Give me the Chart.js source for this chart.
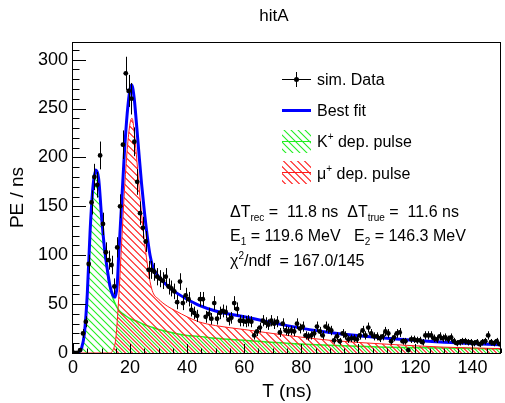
<!DOCTYPE html>
<html>
<head>
<meta charset="utf-8">
<title>hitA</title>
<script src="https://cdn.jsdelivr.net/npm/chart.js@4.4.0/dist/chart.umd.min.js"></script>
<style>
  html, body { margin: 0; padding: 0; background: #fff; }
</style>
</head>
<body>
<canvas id="hitA" width="505" height="403"></canvas>
<script>
var FONT = "'Liberation Sans', Arial, Helvetica, sans-serif";

// simulated hits, one bin per ns (bin i covers i..i+1 ns)
var hits = [
    0,   0,   3,  20,  32,  91, 154, 180, 172, 202,
  132, 103,  95,  90,  68, 108, 150, 213, 286, 268,
  260, 216, 175, 143, 128, 114,  85,  85,  83,  78,
   76,  74,  78,  68,  66,  63,  52,  73,  51,  59,
   55,  44,  41,  38,  55,  55,  37,  40,  35,  51,
   35,  41,  43,  42,  34,  36,  51,  45,  33,  33,
   32,  33,  32,  18,  22,  26,  33,  31,  29,  33,
   30,  32,  21,  30,  23,  22,  23,  22,  30,  25,
   27,  18,  17,  18,  20,  27,  22,  18,  27,  25,
   23,  13,  17,  12,  20,  18,  14,  15,  15,  14,
   18,  23,  18,  26,  20,  17,  17,  15,  17,  22,
   20,  12,  16,  20,  21,  12,  12,   3,  14,  14,
   13,  13,  11,  18,  18,  18,  15,  14,  17,  15,
   16,  14,  16,  12,  10,  11,  12,  12,  11,  11,
   10,  11,   9,  11,  12,  18,  11,  10,  12,   9
];

// fitted pulses, sampled along T (ns)
var kaonT  = [0, 1, 2, 3, 4, 5, 6, 7, 8, 9, 10, 11, 12, 13, 14, 15, 16, 17, 18, 20, 22, 25, 28, 30, 36, 40, 44, 50, 60, 75, 90, 110, 130, 150];
var kaonPE = [0, 0, 1, 5, 20, 60, 125, 170, 187, 178, 140, 107, 84, 66, 56, 49, 44, 41, 39, 35, 33, 29, 26, 24, 20, 18, 17, 15, 13, 10, 8, 6, 5, 4];

var muonT  = [0, 13, 14, 15, 16, 17, 18, 19, 20, 20.7, 21.5, 22.2, 23, 24, 25, 26, 27, 28, 30, 33, 36, 40, 44, 50, 60, 75, 90, 110, 130, 150];
var muonPE = [0, 0, 3, 15, 55, 110, 165, 208, 235, 240, 225, 203, 175, 143, 115, 92, 73, 62, 55, 48, 43, 37, 32, 28, 24, 18, 13, 9, 6, 4.5];

var fitT  = [0, 1, 2, 3, 4, 5, 6, 7, 8, 9, 10, 11, 12, 13, 14, 14.7, 15.5, 16, 17, 18, 19, 20, 20.6, 21.5, 22.2, 23, 24, 25, 26, 27, 28, 30, 33, 36, 40, 44, 50, 60, 75, 90, 110, 130, 150];
var fitPE = [0, 0, 1, 5, 20, 60, 125, 170, 187, 178, 140, 108, 86, 68, 59, 57, 70, 99, 151, 204, 245, 270, 274, 259, 236, 208, 174, 145, 120, 100, 88, 78, 69, 62, 55, 49, 43, 37, 28, 21, 15, 11, 8.5];

var legendLabels = ['sim. Data', 'Best fit', 'K', 'μ'];

var GREEN = '#22ee22';
var RED = '#ff1a1a';
var BLUE = '#0000ff';

function pairs(xs, ys) {
    return xs.map(function (x, i) { return { x: x, y: ys[i] }; });
}

var canvas = document.getElementById('hitA');
var mainCtx = canvas.getContext('2d');

// 45 degree hatch tile ("\\\" direction)
function hatch(color, shift) {
    var size = 7;
    var c = document.createElement('canvas');
    c.width = size;
    c.height = size;
    var g = c.getContext('2d');
    g.clearRect(0, 0, size, size);
    g.strokeStyle = color;
    g.lineWidth = 1.1;
    g.beginPath();
    for (var k = -1; k <= 1; k++) {
        g.moveTo(k * size + shift - 1, -1);
        g.lineTo(k * size + shift + size + 1, size + 1);
    }
    g.stroke();
    return mainCtx.createPattern(c, 'repeat');
}

var redHatch = hatch(RED, 3.5);
var greenHatch = hatch(GREEN, 0);

var dataPoints = hits.map(function (v, i) { return { x: i + 0.5, y: v }; });

function richText(ctx, x, y, parts, size) {
    parts.forEach(function (p) {
        var s = (p.sub || p.sup) ? Math.round(size * 0.62) : size;
        ctx.font = s + 'px ' + FONT;
        var dy = p.sub ? size * 0.22 : (p.sup ? -size * 0.42 : 0);
        ctx.fillText(p.t, x, y + dy);
        x += ctx.measureText(p.t).width;
    });
}

// ROOT-like frame, inner ticks, error bars, legend and text
var rootStyle = {
    id: 'rootStyle',
    afterDatasetsDraw: function (chart) {
        var ctx = chart.ctx;
        var xs = chart.scales.x, ys = chart.scales.y;
        ctx.save();
        ctx.strokeStyle = '#000';
        ctx.lineWidth = 1;
        ctx.beginPath();
        hits.forEach(function (v, i) {
            var err = Math.sqrt(v);
            var px = Math.round(xs.getPixelForValue(i + 0.5)) + 0.5;
            var py = Math.round(ys.getPixelForValue(v)) + 0.5;
            ctx.moveTo(px, ys.getPixelForValue(Math.max(v - err, 0)));
            ctx.lineTo(px, ys.getPixelForValue(v + err));
            ctx.moveTo(xs.getPixelForValue(i), py);
            ctx.lineTo(xs.getPixelForValue(i + 1), py);
        });
        ctx.stroke();
        ctx.restore();
    },
    afterDraw: function (chart) {
        var ctx = chart.ctx;
        var a = chart.chartArea;
        var xs = chart.scales.x, ys = chart.scales.y;
        ctx.save();

        // frame
        ctx.strokeStyle = '#000';
        ctx.lineWidth = 1;
        ctx.strokeRect(a.left - 0.5, a.top + 0.5, a.right - a.left, a.bottom - a.top);

        // ticks
        ctx.beginPath();
        var v, p;
        for (v = 0; v <= 310; v += 10) {
            p = Math.round(ys.getPixelForValue(v)) + 0.5;
            ctx.moveTo(a.left, p);
            ctx.lineTo(a.left + (v % 50 === 0 ? 13 : 6.5), p);
        }
        for (v = 0; v <= 150; v += 5) {
            p = Math.round(xs.getPixelForValue(v)) + 0.5;
            ctx.moveTo(p, a.bottom);
            ctx.lineTo(p, a.bottom - (v % 20 === 0 ? 9 : 4.5));
        }
        ctx.stroke();

        // title
        ctx.fillStyle = '#000';
        ctx.textAlign = 'center';
        ctx.textBaseline = 'alphabetic';
        ctx.font = '17px ' + FONT;
        ctx.fillText('hitA', 274, 21);

        // legend
        ctx.textAlign = 'left';
        var lx = 282, lw = 29;
        ctx.beginPath();
        ctx.moveTo(lx, 79.5); ctx.lineTo(lx + lw, 79.5);
        ctx.moveTo(lx + 14.5, 72); ctx.lineTo(lx + 14.5, 87);
        ctx.stroke();
        ctx.beginPath();
        ctx.arc(lx + 14.5, 79.5, 2.5, 0, Math.PI * 2);
        ctx.fill();

        ctx.strokeStyle = BLUE;
        ctx.lineWidth = 3;
        ctx.beginPath();
        ctx.moveTo(lx, 110.5); ctx.lineTo(lx + lw, 110.5);
        ctx.stroke();

        ctx.lineWidth = 1;
        ctx.fillStyle = greenHatch;
        ctx.fillRect(lx, 130, lw, 23);
        ctx.strokeStyle = GREEN;
        ctx.beginPath();
        ctx.moveTo(lx, 141.5); ctx.lineTo(lx + lw, 141.5);
        ctx.stroke();

        ctx.fillStyle = redHatch;
        ctx.fillRect(lx, 161, lw, 23);
        ctx.strokeStyle = RED;
        ctx.beginPath();
        ctx.moveTo(lx, 172.5); ctx.lineTo(lx + lw, 172.5);
        ctx.stroke();

        ctx.fillStyle = '#000';
        richText(ctx, 317, 85, [{ t: legendLabels[0] }], 16);
        richText(ctx, 317, 116, [{ t: legendLabels[1] }], 16);
        richText(ctx, 317, 147, [{ t: legendLabels[2] }, { t: '+', sup: true }, { t: ' dep. pulse' }], 16);
        richText(ctx, 317, 179, [{ t: legendLabels[3] }, { t: '+', sup: true }, { t: ' dep. pulse' }], 16);

        // fit results
        richText(ctx, 230, 217, [
            { t: 'ΔT' }, { t: 'rec', sub: true }, { t: ' =  11.8 ns  ΔT' }, { t: 'true', sub: true }, { t: ' =  11.6 ns' }
        ], 16);
        richText(ctx, 230, 241, [
            { t: 'E' }, { t: '1', sub: true }, { t: ' = 119.6 MeV   E' }, { t: '2', sub: true }, { t: ' = 146.3 MeV' }
        ], 16);
        richText(ctx, 230, 266, [
            { t: 'χ' }, { t: '2', sup: true }, { t: '/ndf  = 167.0/145' }
        ], 16);
        ctx.restore();
    }
};

var chart = new Chart(canvas, {
    type: 'line',
    data: {
        datasets: [{
            label: 'sim. Data',
            data: dataPoints,
            showLine: false,
            pointRadius: 2.4,
            pointBackgroundColor: '#000',
            pointBorderWidth: 0,
            order: 0
        }, {
            label: 'Best fit',
            data: pairs(fitT, fitPE),
            borderColor: BLUE,
            borderWidth: 3,
            pointRadius: 0,
            cubicInterpolationMode: 'monotone',
            fill: false,
            order: 1
        }, {
            label: 'mu dep. pulse',
            data: pairs(muonT, muonPE),
            borderColor: RED,
            borderWidth: 1,
            backgroundColor: redHatch,
            pointRadius: 0,
            cubicInterpolationMode: 'monotone',
            fill: 'origin',
            order: 2
        }, {
            label: 'K dep. pulse',
            data: pairs(kaonT, kaonPE),
            borderColor: GREEN,
            borderWidth: 1.5,
            backgroundColor: greenHatch,
            pointRadius: 0,
            cubicInterpolationMode: 'monotone',
            fill: 'origin',
            order: 3
        }]
    },
    options: {
        responsive: false,
        animation: false,
        layout: { padding: { left: 0, right: 1, top: 42, bottom: 0 } },
        plugins: {
            legend: { display: false },
            tooltip: { enabled: false },
            title: { display: false }
        },
        scales: {
            x: {
                type: 'linear',
                min: 0,
                max: 150,
                grid: { display: false, drawTicks: false },
                border: { display: false },
                ticks: {
                    stepSize: 20,
                    includeBounds: false,
                    autoSkip: false,
                    maxRotation: 0,
                    padding: 4,
                    color: '#000',
                    font: { family: FONT, size: 18 }
                },
                title: {
                    display: true,
                    text: 'T (ns)',
                    color: '#000',
                    font: { family: FONT, size: 19 },
                    padding: { top: 0, bottom: 0 }
                },
                afterFit: function (s) { s.height = 50; }
            },
            y: {
                min: 0,
                max: 318,
                grid: { display: false, drawTicks: false },
                border: { display: false },
                ticks: {
                    stepSize: 50,
                    includeBounds: false,
                    autoSkip: false,
                    padding: 5,
                    color: '#000',
                    font: { family: FONT, size: 18 }
                },
                title: {
                    display: true,
                    text: 'PE / ns',
                    color: '#000',
                    font: { family: FONT, size: 19 },
                    padding: { top: 6, bottom: 0 }
                },
                afterFit: function (s) { s.width = 73; }
            }
        }
    },
    plugins: [rootStyle]
});
</script>
</body>
</html>
